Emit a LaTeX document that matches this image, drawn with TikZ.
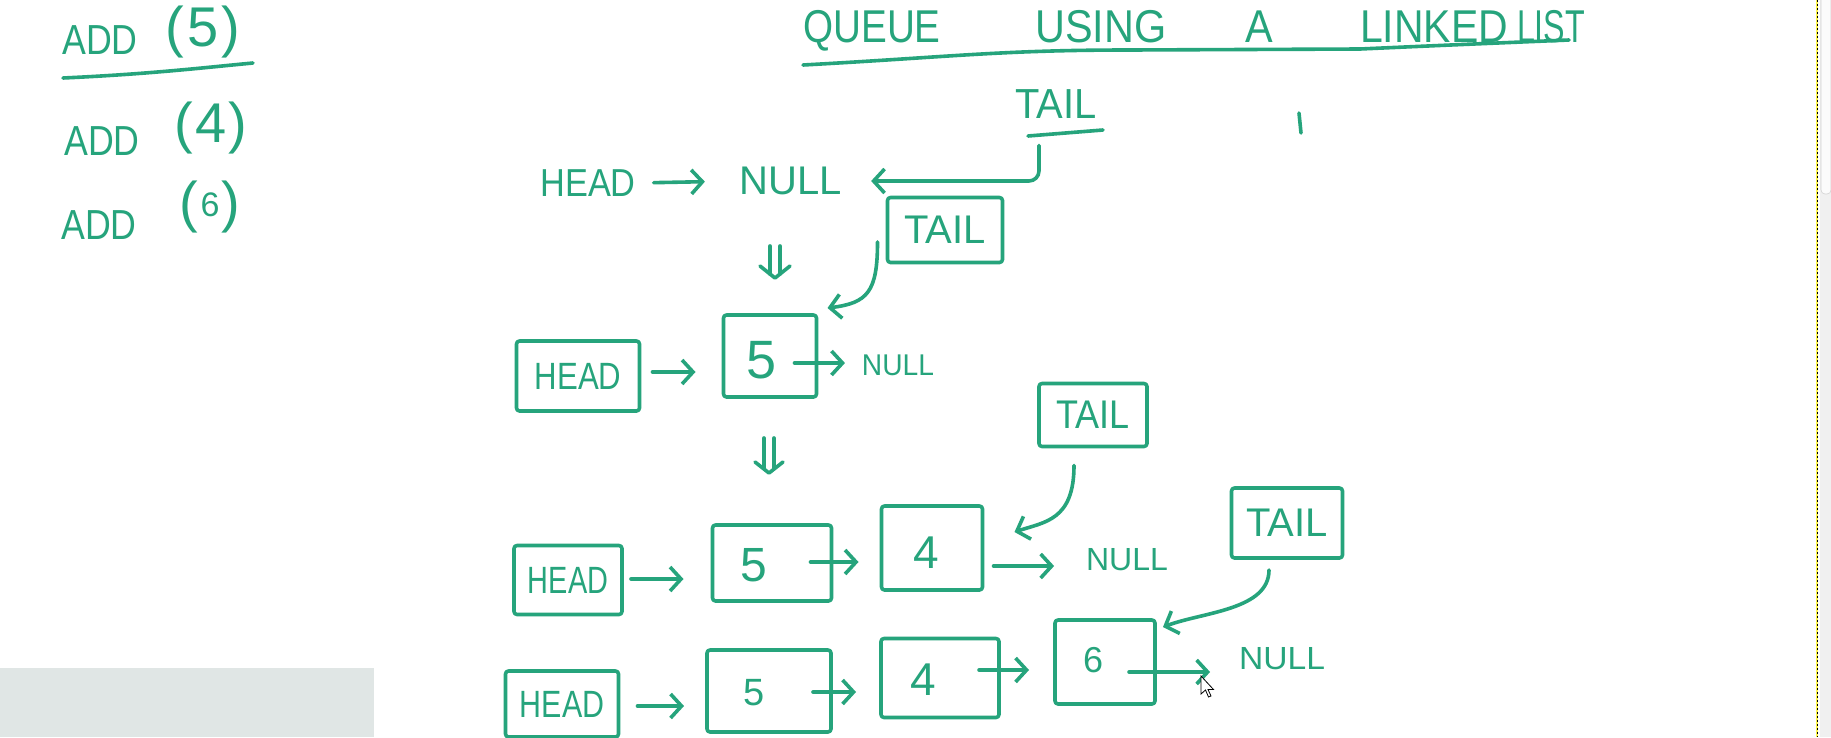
\documentclass[tikz,border=0pt]{standalone}
\usepackage{fontspec}
\setmainfont{Liberation Sans}
\usetikzlibrary{arrows.meta,calc}
\definecolor{ink}{RGB}{38,164,124}
\definecolor{panel}{RGB}{224,230,229}
\newcommand\fsz[1]{\fontsize{#1}{#1}\selectfont}
\newcommand\narrowtxt[2]{\scalebox{#1}[1]{#2}}
\begin{document}
\begin{tikzpicture}[x=1pt,y=-1pt,
  pen/.style={draw=ink, line width=3.6pt, line cap=round, line join=round},
  arr/.style={pen, -{Straight Barb[length=11pt,width=24pt]}},
  hw/.style={text=ink, inner sep=0pt, outer sep=0pt},
  ttl/.style={hw, anchor=base, font=\fsz{46}},
  cell/.style={pen, text=ink, rounded corners=3pt, inner sep=0pt, outer sep=0pt},
  headtxt/.style={font=\fsz{38}},
  tailtxt/.style={font=\fsz{40}}
]
\useasboundingbox (0,0) rectangle (1831,737);
\fill[white] (0,0) rectangle (1831,737);

% bottom-left panel and right border
\fill[panel] (0,668) rectangle (374,737);
\fill[gray!12] (1820,0) rectangle (1831,737);
\draw[fill=gray!3, draw=gray!35, line width=0.6pt, rounded corners=4pt] (1821,-6) rectangle (1831,194);
\draw[yellow!70, line width=1.6pt] (1817,0) -- (1817,737);
\draw[black, line width=0.9pt, dash pattern=on 2pt off 2pt] (1817,0) -- (1817,737);

% left column
\node[hw, font=\fsz{42}] (add1) at (100,40) {\narrowtxt{0.85}{ADD}};
\node[hw, font=\fsz{56}] (arg1) at (203,32) {(\kern3pt5\kern3pt)};
\draw[pen] (63,78) .. controls (150,74) and (200,68) .. (253,63);
\node[hw, font=\fsz{42}] (add2) at (102,141) {\narrowtxt{0.85}{ADD}};
\node[hw, font=\fsz{56}] (arg2) at (211,128) {(\kern2pt4\kern2pt)};
\node[hw, font=\fsz{42}] (add3) at (99,225) {\narrowtxt{0.85}{ADD}};
\node[hw, font=\fsz{56}] (arg3) at (210,207) {(\kern2pt\raisebox{5pt}{\fsz{34}6}\kern2pt)};

% title
\node[ttl] (t1) at (872,42) {\narrowtxt{0.84}{QUEUE}};
\node[ttl] (t2w) at (1101,42) {\narrowtxt{0.9}{USING}};
\node[ttl] (t3w) at (1259,42) {\narrowtxt{0.9}{A}};
\node[ttl] (t4w) at (1434,42) {\narrowtxt{0.89}{LINKED}};
\node[ttl] (t5w) at (1551,42) {\narrowtxt{0.7}{LIST}};
\draw[pen] (803,65) .. controls (950,57) and (1000,50) .. (1130,50) -- (1360,49) .. controls (1450,45) .. (1569,40);

% row 1
\node[hw, font=\fsz{42}] (tail1) at (1056,104) {\narrowtxt{0.95}{TAIL}};
\draw[pen] (1028,136) -- (1103,130);
\draw[pen] (1299,113) -- (1301,133);
\node[hw, font=\fsz{39}] (head1) at (588,183) {\narrowtxt{0.88}{HEAD}};
\node[hw, font=\fsz{40}] (null1) at (791,181) {NULL};
\draw[arr, shorten <=18pt, shorten >=35pt] (head1.east) -- (null1.west);
\draw[arr, rounded corners=10pt, shorten >=29pt] ($(tail1.south)+(-17,27)$) |- (null1.east);

% double arrow 1
\draw[pen] (770,246) -- (770,274) (780,246) -- (780,274);
\draw[pen] (760,266) -- (775,278) -- (790,266);

% row 2
\node[cell, headtxt, minimum width=123pt, minimum height=70pt] (r2head) at (578,376) {\narrowtxt{0.82}{HEAD}};
\node[cell, minimum width=93pt, minimum height=82pt] (r2b5) at (770,356) {};
\node[hw, font=\fsz{54}] (r2d5) at (762,360) {5};
\node[hw, font=\fsz{30}] (r2null) at (898,365) {\narrowtxt{0.94}{NULL}};
\node[cell, tailtxt, minimum width=115pt, minimum height=65pt] (tl2) at (945,230) {TAIL};
\draw[arr] ($(r2head.east)+(13,-4)$) -- ($(r2b5.west|-r2head.east)+(-28,-4)$);
\draw[arr] ($(r2b5.east|-r2null.west)+(-22,-2)$) -- ($(r2null.west)+(-17,-2)$);
\draw[arr] ($(tl2.west)+(-10,12)$) .. controls +(0,50) and +(40,-5) .. ($(r2b5.north east)+(11,-7)$);

% double arrow 2
\draw[pen] (764,438) -- (764,468) (774,438) -- (774,468);
\draw[pen] (755,462) -- (769,473) -- (783,462);

% row 3
\node[cell, headtxt, minimum width=108pt, minimum height=69pt] (r3head) at (568,580) {\narrowtxt{0.76}{HEAD}};
\node[cell, minimum width=119pt, minimum height=76pt] (r3b5) at (772,563) {};
\node[hw, font=\fsz{48}] (r3d5) at (754,565) {5};
\node[cell, minimum width=101pt, minimum height=84pt] (r3b4) at (932,548) {};
\node[hw, font=\fsz{46}] (r3d4) at (926,553) {4};
\node[hw, font=\fsz{32}] (r3null) at (1127,560) {NULL};
\node[cell, tailtxt, minimum width=108pt, minimum height=63pt] (tl3) at (1093,415) {\narrowtxt{0.9}{TAIL}};
\draw[arr] ($(r3head.east)+(9,-1)$) -- ($(r3b5.west|-r3head.east)+(-29,-1)$);
\draw[arr] ($(r3b5.east)+(-21,-1)$) -- ($(r3b4.west|-r3b5.east)+(-23,-1)$);
\draw[arr] ($(r3b4.east|-r3null.west)+(11,6)$) -- ($(r3null.west)+(-32,6)$);
\draw[arr] ($(tl3.south)+(-19,19)$) .. controls +(0,55) and +(30,-10) .. ($(r3b4.north east)+(32,26)$);

% row 4
\node[cell, headtxt, minimum width=113pt, minimum height=66pt] (r4head) at (562,704) {\narrowtxt{0.8}{HEAD}};
\node[cell, minimum width=124pt, minimum height=82pt] (r4b5) at (769,691) {};
\node[hw, font=\fsz{38}] (r4d5) at (754,693) {5};
\node[cell, minimum width=118pt, minimum height=79pt] (r4b4) at (940,678) {};
\node[hw, font=\fsz{46}] (r4d4) at (923,680) {4};
\node[cell, minimum width=100pt, minimum height=84pt] (r4b6) at (1105,662) {};
\node[hw, font=\fsz{36}] (r4d6) at (1093,660) {6};
\node[hw, font=\fsz{32}] (r4null) at (1282,659) {\narrowtxt{1.05}{NULL}};
\node[cell, tailtxt, minimum width=111pt, minimum height=70pt] (tl4) at (1287,523) {TAIL};
\draw[arr] ($(r4head.east)+(19,2)$) -- ($(r4b5.west|-r4head.east)+(-23,2)$);
\draw[arr] ($(r4b5.east)+(-18,1)$) -- ($(r4b4.west|-r4b5.east)+(-25,1)$);
\draw[arr] ($(r4b4.east)+(-20,-8)$) -- ($(r4b6.west|-r4b4.east)+(-26,-8)$);
\draw[arr] ($(r4b6.east)+(-26,10)$) -- ($(r4null.west|-r4b6.east)+(-29,10)$);
\draw[arr] ($(tl4.south)+(-18,12)$) .. controls +(0,40) and +(40,-15) .. ($(r4b6.north east)+(8,7)$);

% mouse cursor
\draw[black, fill=white, line width=0.8pt, line join=miter] (1201,676) -- (1201,694) -- (1205.5,690) -- (1208.5,697) -- (1211,696) -- (1208,689.5) -- (1213.5,689.5) -- cycle;
\end{tikzpicture}
\end{document}
